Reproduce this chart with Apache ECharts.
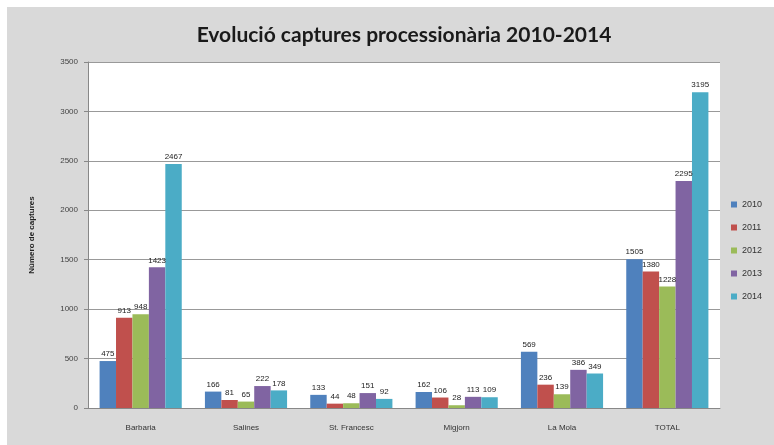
<!DOCTYPE html>
<html><head><meta charset="utf-8">
<script src="https://cdn.jsdelivr.net/npm/echarts@6/dist/echarts.min.js"></script>
<style>html,body{margin:0;padding:0;background:#fff;}#c{width:774px;height:445px;}</style>
</head><body><div id="c"></div>
<script>
const categories = ['Barbaria','Salines','St. Francesc','Migjorn','La Mola','TOTAL'];
const years = ['2010','2011','2012','2013','2014'];
const s2010 = [475,166,133,162,569,1505];
const s2011 = [913,81,44,106,236,1380];
const s2012 = [948,65,48,28,139,1228];
const s2013 = [1423,222,151,113,386,2295];
const s2014 = [2467,178,92,109,349,3195];
const yTicks = [0,500,1000,1500,2000,2500,3000,3500];
const colors = ['#4F81BD','#C0504D','#9BBB59','#8064A2','#4BACC6'];
const allSeries = [s2010,s2011,s2012,s2013,s2014];

const chart = echarts.init(document.getElementById('c'));
chart.setOption({
  animation:false,
  backgroundColor:'#fff',
  graphic:[{type:'rect',z:-10,shape:{x:7,y:7,width:767,height:438},style:{fill:'#d9d9d9'}}],
  title:{text:'Evolució captures processionària 2010-2014',left:399,top:20,textAlign:'center',
    textStyle:{fontFamily:'Lato',fontWeight:'bold',fontSize:21,color:'#1a1a1a'}},
  color:colors,
  legend:{orient:'vertical',left:726,top:195,itemWidth:6,itemHeight:6,itemGap:14,icon:'rect',
    textStyle:{fontSize:9,color:'#333',fontFamily:'Liberation Sans'},data:years},
  grid:{left:88,top:62,width:632,height:346,containLabel:false,backgroundColor:'#fff',show:true,borderWidth:0},
  xAxis:{type:'category',data:categories,
    axisLine:{lineStyle:{color:'#888'}},axisTick:{show:false},
    axisLabel:{fontSize:8,color:'#333',margin:16,fontFamily:'Liberation Sans'}},
  yAxis:{type:'value',min:0,max:3500,interval:500,
    name:'Número de captures',nameLocation:'middle',nameGap:52,nameRotate:90,
    nameTextStyle:{fontSize:8,fontWeight:'bold',color:'#222',fontFamily:'Liberation Sans'},
    axisLine:{show:true,lineStyle:{color:'#888'}},axisTick:{show:true,length:4,lineStyle:{color:'#888'}},
    splitLine:{lineStyle:{color:'#999'}},
    axisLabel:{fontSize:8,color:'#444',margin:10,fontFamily:'Liberation Sans',
      formatter:v=>yTicks.includes(v)?String(v):''}},
  series: allSeries.map((d,i)=>({
    name:years[i],type:'bar',data:d,barGap:'0%',barCategoryGap:'22%',
    label:{show:true,position:'top',distance:3,fontSize:8,color:'#222',fontFamily:'Liberation Sans'}
  }))
});
</script></body></html>
